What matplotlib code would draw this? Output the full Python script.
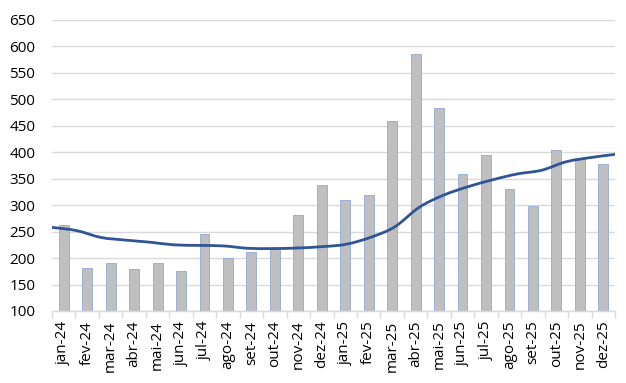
import matplotlib
matplotlib.use("Agg")
import matplotlib.pyplot as plt
from matplotlib.path import Path
from matplotlib.patches import PathPatch
import numpy as np

months = ["jan-24", "fev-24", "mar-24", "abr-24", "mai-24", "jun-24", "jul-24", "ago-24",
          "set-24", "out-24", "nov-24", "dez-24", "jan-25", "fev-25", "mar-25", "abr-25",
          "mai-25", "jun-25", "jul-25", "ago-25", "set-25", "out-25", "nov-25", "dez-25"]
bars = [263, 181, 190, 179, 191, 176, 245, 201, 212, 217, 281, 338,
        310, 320, 460, 586, 484, 358, 395, 331, 298, 404, 389, 378]
trend = [258, 252, 239, 234, 230, 225, 224, 223, 218.5, 218, 219, 221.5,
         226, 239, 259, 296, 319, 335, 348, 359, 366, 382, 390, 396]
yticks = list(range(100, 651, 50))

plt.rcParams['font.family'] = ['Open Sans', 'DejaVu Sans']

fig = plt.figure(figsize=(6.26, 3.83), dpi=100)
ax = fig.add_axes([0.0831, 0.188, 0.8994, 0.7598])

x = np.arange(len(months))
ax.bar(x, [b - 100 for b in bars], bottom=100, width=0.42, color="#BFBFBF",
       edgecolor="#8EA9DB", linewidth=0.6, zorder=2)
ax.set_xlim(-0.5, len(months) - 0.5)
ax.set_ylim(100, 650)
ax.set_yticks(yticks)
ax.set_yticklabels([str(v) for v in yticks], fontsize=11, color="#000000")
ax.grid(axis="y", color="#D9D9D9", linewidth=1.0, zorder=0)
ax.set_axisbelow(True)
for s in ["top", "right", "left"]:
    ax.spines[s].set_visible(False)
ax.spines["bottom"].set_color("#D9D9D9")
ax.spines["bottom"].set_linewidth(1.0)
ax.tick_params(axis="y", length=0, pad=12)
ax.set_xticks(x)
ax.set_xticklabels(months, rotation=90, fontsize=11, color="#000000")
ax.tick_params(axis="x", which="major", length=0, pad=7)
ax.set_xticks(np.arange(-0.5, len(months), 1.0), minor=True)
ax.tick_params(axis="x", which="minor", length=5, color="#D9D9D9", width=1.0)

# smoothed trend line (Catmull-Rom through the data points, like Excel's smooth line)
ax2 = ax.twiny()
ax2.set_xlim(0, len(trend) - 1)
ax2.set_ylim(100, 650)
tx = np.arange(len(trend), dtype=float)
ty = np.array(trend, dtype=float)
verts = [(tx[0], ty[0])]
codes = [Path.MOVETO]
n = len(tx)
for i in range(n - 1):
    p0 = np.array([tx[max(i - 1, 0)], ty[max(i - 1, 0)]])
    p1 = np.array([tx[i], ty[i]])
    p2 = np.array([tx[i + 1], ty[i + 1]])
    p3 = np.array([tx[min(i + 2, n - 1)], ty[min(i + 2, n - 1)]])
    c1 = p1 + (p2 - p0) / 6.0
    c2 = p2 - (p3 - p1) / 6.0
    verts += [tuple(c1), tuple(c2), tuple(p2)]
    codes += [Path.CURVE4] * 3
ax2.add_patch(PathPatch(Path(verts, codes), facecolor="none", edgecolor="#2F5597",
                        linewidth=2.0, capstyle="round", zorder=3))
ax2.axis("off")

fig.savefig("out.png", dpi=100)
